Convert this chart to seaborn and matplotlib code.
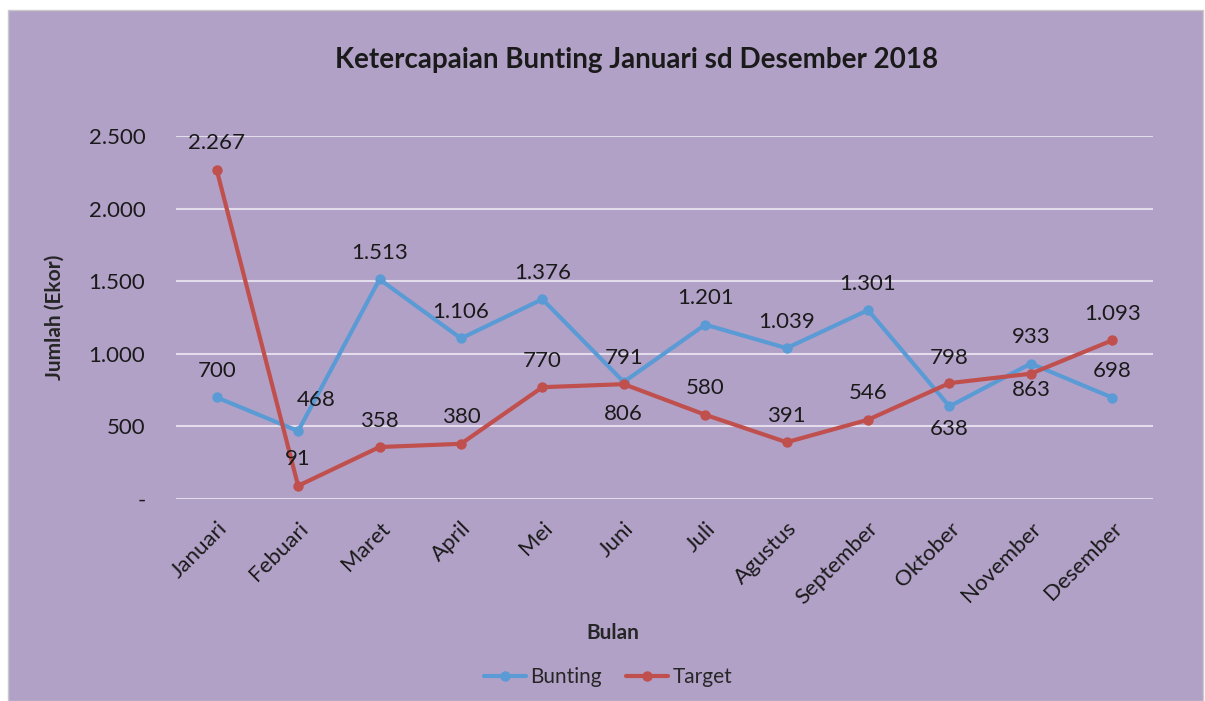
import pandas as pd
import matplotlib.pyplot as plt
import seaborn as sns
from matplotlib.patches import Rectangle
from matplotlib.ticker import FuncFormatter

bulan = ["Januari", "Febuari", "Maret", "April", "Mei", "Juni", "Juli",
         "Agustus", "September", "Oktober", "November", "Desember"]
bunting = [700, 468, 1513, 1106, 1376, 806, 1201, 1039, 1301, 638, 933, 698]
target = [2267, 91, 358, 380, 770, 791, 580, 391, 546, 798, 863, 1093]

# label offsets in points (dx, dy)
off_bunting = [(0, 19), (13, 22), (0, 19), (0, 19), (0, 19), (0, -23),
               (0, 19), (0, 19), (0, 19), (0, -16), (0, 19), (0, 19)]
off_target = [(0, 19), (0, 19), (0, 19), (0, 19), (0, 19), (0, 19),
              (0, 19), (0, 19), (0, 19), (0, 18), (0, -12), (0, 19)]

blue = "#5B9BD5"
red = "#C0504D"
bg = "#B2A1C7"

df = pd.DataFrame({"Bulan": bulan * 2,
                   "Jumlah": bunting + target,
                   "Seri": ["Bunting"] * 12 + ["Target"] * 12})
df["x"] = list(range(12)) * 2

sns.set_style("white")
plt.rcParams["font.family"] = ["Lato", "DejaVu Sans"]

fig = plt.figure(figsize=(12.05, 7.01), dpi=100, facecolor="white")
fig.patches.append(Rectangle((8 / 1205, 0), 1195 / 1205, 691 / 701,
                             transform=fig.transFigure, facecolor=bg,
                             edgecolor="#C9C9C9", lw=1, zorder=-1))
ax = fig.add_axes([176 / 1205, 1 - 499 / 701, 977 / 1205, 363 / 701])
ax.set_facecolor(bg)

sns.lineplot(data=df, x="x", y="Jumlah", hue="Seri", palette=[blue, red],
             marker="o", markersize=7.5, markeredgewidth=0, linewidth=3,
             ax=ax, zorder=3)

fmt = lambda v: "-" if v == 0 else f"{int(v):,}".replace(",", ".")
for vals, offs in [(bunting, off_bunting), (target, off_target)]:
    for i, (v, o) in enumerate(zip(vals, offs)):
        ax.annotate(fmt(v), (i, v), xytext=o, textcoords="offset points",
                    ha="center", va="center", fontsize=16, color="#1a1a1a",
                    zorder=5)

ax.set_xlim(-0.5, 11.5)
ax.set_ylim(0, 2500)
ax.set_yticks([0, 500, 1000, 1500, 2000, 2500])
ax.yaxis.set_major_formatter(FuncFormatter(lambda v, p: fmt(v)))
ax.set_xticks(range(12))
ax.set_xticklabels(bulan, rotation=45, ha="right", rotation_mode="anchor")
ax.tick_params(axis="both", length=0, labelsize=16, colors="#1a1a1a")
ax.tick_params(axis="y", pad=22)
ax.tick_params(axis="x", pad=14)
ax.grid(axis="y", color="#E3DDEB", linewidth=1.5)
ax.set_axisbelow(True)
for s in ax.spines.values():
    s.set_visible(False)

ax.set_xlabel("Bulan", fontsize=15, fontweight="bold")
ax.set_ylabel("Jumlah (Ekor)", fontsize=15, fontweight="bold")
ax.xaxis.set_label_coords((613 - 176) / 977, (499 - 623) / 363)
ax.yaxis.set_label_coords((65 - 176) / 977, 0.5)

fig.text(637 / 1205, 1 - 60 / 701, "Ketercapaian Bunting Januari sd Desember 2018",
         ha="center", va="center", fontsize=20, fontweight="bold", color="#1a1a1a")

h, l = ax.get_legend_handles_labels()
ax.legend(h, l, loc="center", bbox_to_anchor=(608 / 1205, 1 - 677 / 701),
          bbox_transform=fig.transFigure, ncol=2, frameon=False, fontsize=15,
          handlelength=2.0, columnspacing=1.2, handletextpad=0.2)

fig.savefig("out.png", dpi=100, facecolor="white")
